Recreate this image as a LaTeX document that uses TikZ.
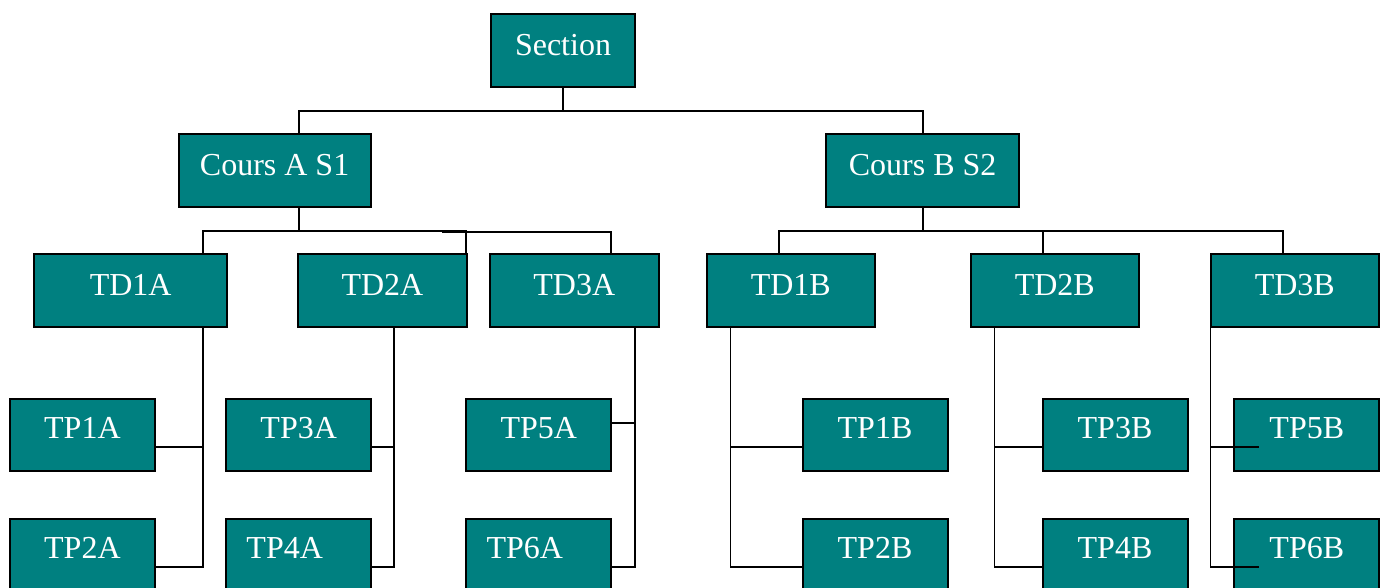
\documentclass[tikz,border=0pt]{standalone}
\usepackage{fontspec}
\setmainfont{Liberation Serif}
\definecolor{tealbox}{RGB}{0,128,128}
\begin{document}
\begin{tikzpicture}[x=1pt,y=-1pt,
  box/.style={draw=black, fill=tealbox, line width=2pt, inner sep=0pt, outer sep=0pt,
    text=white, font=\fontsize{32}{38}\selectfont, text height=15pt, text depth=5pt,
    minimum height=73pt},
  tpbox/.style={box, minimum height=72pt, minimum width=145pt, text height=13.5pt, text depth=6.5pt},
  conn/.style={draw=black, line width=1.8pt}]
\useasboundingbox (0,0) rectangle (1388,588);
\fill[white] (0,0) rectangle (1388,588);
\clip (0,0) rectangle (1388,588);
% boxes
\node[box, minimum width=144.6pt] (sec) at (563,50.5) {Section};
\node[box, minimum width=191.8pt] (ca) at (274.6,170.5) {Cours A S1};
\node[box, minimum width=192.5pt] (cb) at (922.6,170.5) {Cours B S2};
\node[box, minimum width=192.6pt, minimum height=72.6pt] (tda1) at (130.7,290.6) {TD1A};
\node[box, minimum width=168.6pt, minimum height=72.6pt] (tda2) at (382.4,290.6) {TD2A};
\node[box, minimum width=168.5pt, minimum height=72.6pt] (tda3) at (574.3,290.6) {TD3A};
\node[box, minimum width=168.4pt, minimum height=72.6pt] (tdb1) at (790.8,290.6) {TD1B};
\node[box, minimum width=168.4pt, minimum height=72.6pt] (tdb2) at (1054.8,290.6) {TD2B};
\node[box, minimum width=168.5pt, minimum height=72.6pt] (tdb3) at (1294.8,290.6) {TD3B};
\node[tpbox] (tpa1) at (82.4,435) {TP1A};
\node[tpbox] (tpa2) at (82.4,555) {TP2A};
\node[tpbox] (tpa3) at (298.7,435) {TP3A};
\node[tpbox] (tpa4) at (298.7,555) {\hspace*{-28pt}TP4A};
\node[tpbox] (tpa5) at (538.8,435) {TP5A};
\node[tpbox] (tpa6) at (538.8,555) {\hspace*{-28pt}TP6A};
\node[tpbox] (tpb1) at (875,435) {TP1B};
\node[tpbox] (tpb2) at (875,555) {TP2B};
\node[tpbox] (tpb3) at (1115,435) {TP3B};
\node[tpbox] (tpb4) at (1115,555) {TP4B};
\node[tpbox] (tpb5) at (1306.8,435) {TP5B};
\node[tpbox] (tpb6) at (1306.8,555) {TP6B};
% top level
\draw[conn] (sec.south) -- ++(0,23.7) coordinate (j0);
\draw[conn] ([xshift=24pt]ca.north) |- (j0) -| (cb.north);
% Cours A to TDs
\draw[conn] ([xshift=24pt]ca.south) -- ++(0,23.7) coordinate (ja);
\draw[conn] ([xshift=72pt]tda1.north) |- (ja) -| ([xshift=-0.7pt]tda2.north east);
\draw[conn] ([xshift=36.5pt]tda3.north) |- ([xshift=-24.7pt,yshift=22.3pt]tda2.north east);
% Cours B to TDs
\draw[conn] (cb.south) -- ++(0,23.7) coordinate (jb);
\draw[conn] ([xshift=-12pt]tdb1.north) |- (jb) -| ([xshift=-12pt]tdb3.north);
\draw[conn] ([xshift=-12pt]tdb2.north) -- ([xshift=-12pt]tdb2.north |- jb);
% TD A to TPs
\draw[conn] ([xshift=72pt]tda1.south) |- ([yshift=-11.7pt]tpa2.east);
\draw[conn] ([yshift=-11.7pt]tpa1.east) -| ([xshift=72pt]tda1.south);
\draw[conn] ([xshift=11.8pt]tda2.south) |- ([yshift=-11.7pt]tpa4.east);
\draw[conn] ([yshift=-11.7pt]tpa3.east) -| ([xshift=11.8pt]tda2.south);
\draw[conn] ([xshift=60.5pt]tda3.south) |- ([yshift=-11.7pt]tpa6.east);
\draw[conn] ([yshift=12pt]tpa5.east) -| ([xshift=60.5pt]tda3.south);
% TD B to TPs
\draw[conn] ([xshift=-60.3pt]tdb1.south) |- ([yshift=-11.7pt]tpb2.west);
\draw[conn] ([yshift=-11.7pt]tpb1.west) -| ([xshift=-60.3pt]tdb1.south);
\draw[conn] ([xshift=-60.3pt]tdb2.south) |- ([yshift=-11.7pt]tpb4.west);
\draw[conn] ([yshift=-11.7pt]tpb3.west) -| ([xshift=-60.3pt]tdb2.south);
\draw[conn] (tdb3.south west) |- ([xshift=24.5pt,yshift=-11.7pt]tpb6.west);
\draw[conn] ([xshift=24.5pt,yshift=-11.7pt]tpb5.west) -| (tdb3.south west);
\end{tikzpicture}
\end{document}
